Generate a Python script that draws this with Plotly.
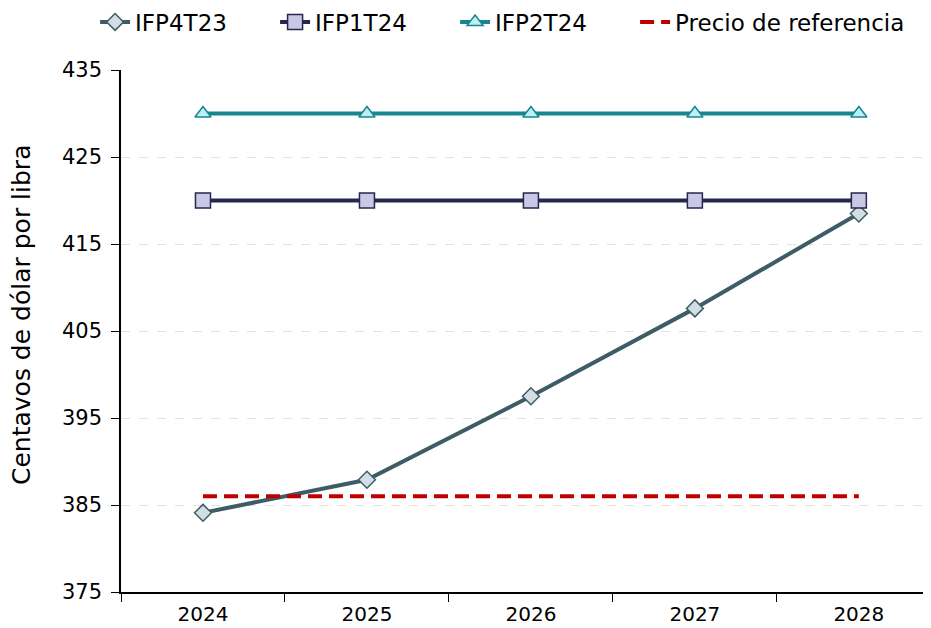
import plotly.graph_objects as go

years = ["2024", "2025", "2026", "2027", "2028"]
ifp4t23 = [384.1, 387.9, 397.5, 407.6, 418.5]
ifp1t24 = [420, 420, 420, 420, 420]
ifp2t24 = [430, 430, 430, 430, 430]
precio_ref = [386, 386, 386, 386, 386]
y_ticks = [375, 385, 395, 405, 415, 425, 435]
y_title = "Centavos de dólar por libra"

FONT = "DejaVu Sans"

fig = go.Figure()
fig.add_trace(go.Scatter(
    x=years, y=ifp4t23, name="IFP4T23", mode="lines+markers",
    line=dict(color="#3e5c64", width=4),
    marker=dict(symbol="diamond", size=13, color="#d3dee4",
                line=dict(color="#3e5c64", width=1.5))))
fig.add_trace(go.Scatter(
    x=years, y=ifp1t24, name="IFP1T24", mode="lines+markers",
    line=dict(color="#262650", width=4),
    marker=dict(symbol="square", size=15, color="#c9c9e6",
                line=dict(color="#262650", width=1.5))))
fig.add_trace(go.Scatter(
    x=years, y=ifp2t24, name="IFP2T24", mode="lines+markers",
    line=dict(color="#17868f", width=4),
    marker=dict(symbol="triangle-up", size=14, color="#bdeef2",
                line=dict(color="#17868f", width=1.5))))
fig.add_trace(go.Scatter(
    x=years, y=precio_ref, name="Precio de referencia", mode="lines",
    legendwidth=300,
    line=dict(color="#c00000", width=4, dash="14px,7px")))

fig.update_layout(
    width=931, height=628,
    margin=dict(l=113, r=8, t=62, b=44, autoexpand=False),
    paper_bgcolor="white", plot_bgcolor="white",
    font=dict(family=FONT, size=20, color="black"),
    legend=dict(orientation="h", x=-0.032, xanchor="left", y=1.092, yanchor="middle",
                font=dict(size=23), entrywidth=135, tracegroupgap=0,
                bgcolor="rgba(0,0,0,0)"),
    xaxis=dict(type="category", range=[-0.5, 4.44], showline=True, linecolor="black",
               linewidth=1.5, ticks="outside", tickson="boundaries", ticklen=8,
               tickcolor="black", showgrid=False, tickfont=dict(size=20),
               ticklabelstandoff=3),
    yaxis=dict(range=[375, 435], tickvals=y_ticks, showline=True, linecolor="black",
               linewidth=1.5, ticks="outside", ticklen=8, tickcolor="black",
               showgrid=True, gridcolor="#e3e3e3", griddash="dash", gridwidth=1,
               zeroline=False, tickfont=dict(size=21), ticklabelstandoff=5),
    annotations=[dict(text=y_title, xref="paper", yref="paper", x=-0.122, y=0.531,
                      xanchor="center", yanchor="middle", textangle=-90,
                      showarrow=False, font=dict(size=25))],
)

fig.write_html("out.html")
